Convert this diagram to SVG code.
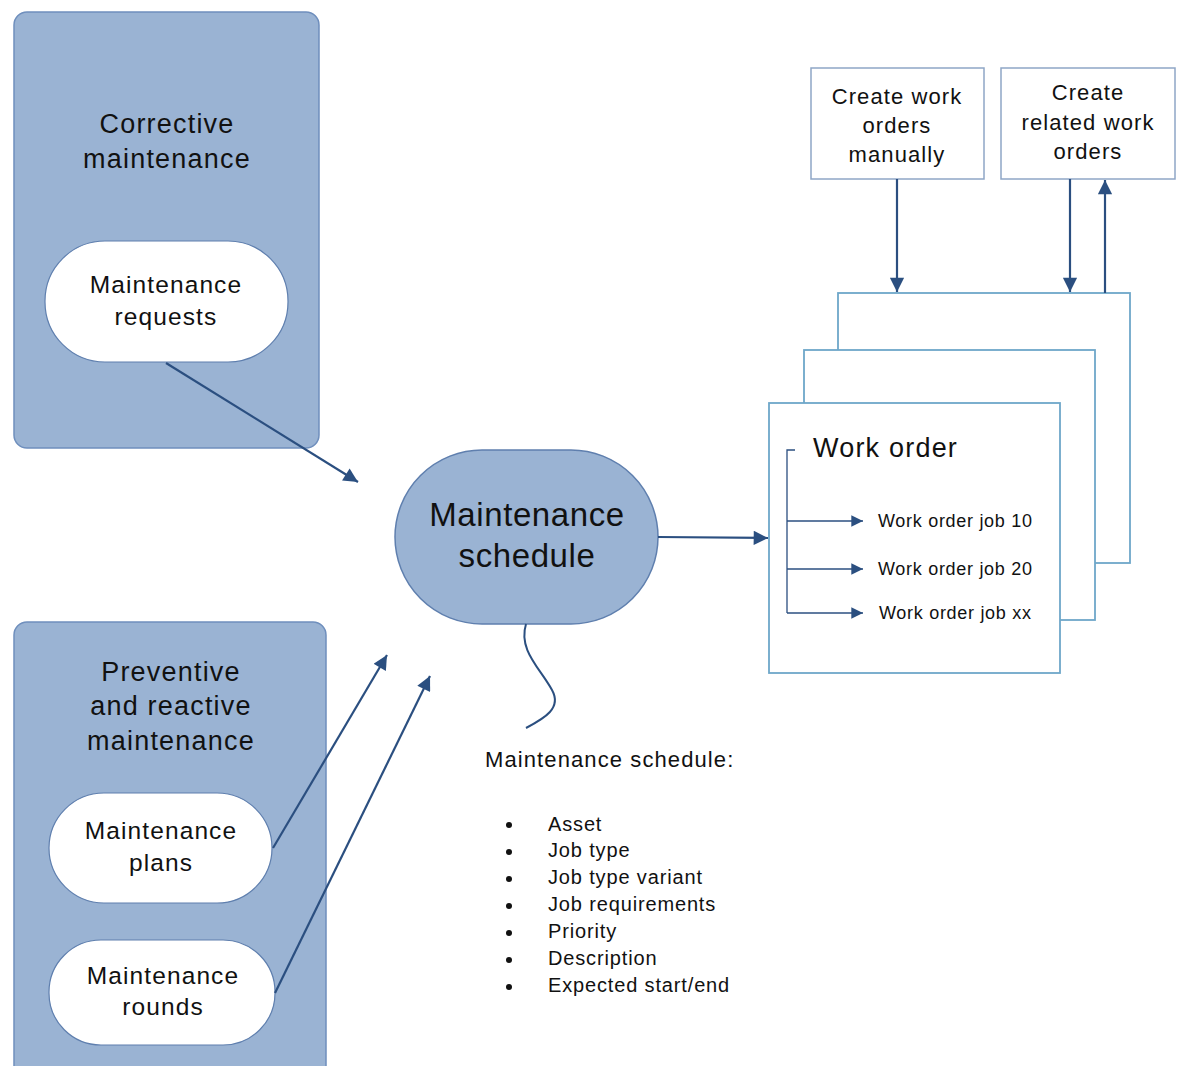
<svg xmlns="http://www.w3.org/2000/svg" width="1178" height="1066" viewBox="0 0 1178 1066">
<style>
text{font-family:"Liberation Sans",Arial,sans-serif;fill:#111;text-anchor:middle}
.grp{fill:#9ab3d3;stroke:#6f8fbd;stroke-width:1.5}
.pill{fill:#fff;stroke:#5f7fae;stroke-width:1.2}
.card{fill:#fff;stroke:#6ea7c9;stroke-width:1.8}
.box{fill:#fff;stroke:#8fa6c6;stroke-width:1.5}
.con{stroke:#2b4f80;stroke-width:2.2;fill:none}
.thin{stroke:#2b4f80;stroke-width:1.3;fill:none}
.t27{font-size:27px;letter-spacing:1.2px}
.t24{font-size:24.5px;letter-spacing:1.1px}
.t22{font-size:22px;letter-spacing:1.1px}
.t18{font-size:18px;letter-spacing:0.7px;text-anchor:start}
.t20{font-size:20px;letter-spacing:0.85px;text-anchor:start}
</style>
<defs>
<marker id="ah" viewBox="0 0 10 10" refX="10" refY="5" markerWidth="7" markerHeight="6.5" markerUnits="strokeWidth" orient="auto"><path d="M0,0L10,5L0,10z" fill="#2b4f80"/></marker>
<marker id="ahs" viewBox="0 0 10 10" refX="10" refY="5" markerWidth="10" markerHeight="9" markerUnits="strokeWidth" orient="auto"><path d="M0,0L10,5L0,10z" fill="#2b4f80"/></marker>
</defs>

<g id="corrective">
<rect class="grp" x="14" y="12" width="305" height="436" rx="13"/>
<text class="t27" x="167" y="133">Corrective</text>
<text class="t27" x="167" y="168">maintenance</text>
</g>
<g id="requests">
<rect class="pill" x="45" y="241" width="243" height="121" rx="60"/>
<text class="t24" x="166" y="293">Maintenance</text>
<text class="t24" x="166" y="325">requests</text>
</g>

<g id="preventive">
<rect class="grp" x="14" y="622" width="312" height="460" rx="13"/>
<text class="t27" x="171" y="681">Preventive</text>
<text class="t27" x="171" y="715">and reactive</text>
<text class="t27" x="171" y="750">maintenance</text>
</g>
<g id="plans">
<rect class="pill" x="49" y="793" width="223" height="110" rx="55"/>
<text class="t24" x="161" y="839">Maintenance</text>
<text class="t24" x="161" y="871">plans</text>
</g>
<g id="rounds">
<rect class="pill" x="49" y="940" width="226" height="105" rx="52"/>
<text class="t24" x="163" y="984">Maintenance</text>
<text class="t24" x="163" y="1015">rounds</text>
</g>

<g id="schedule">
<rect class="grp" x="395" y="450" width="263" height="174" rx="87" style="stroke:#5f7fae"/>
<text style="font-size:33px;letter-spacing:0.6px" x="527" y="526">Maintenance</text>
<text style="font-size:33px;letter-spacing:0.6px" x="527" y="567">schedule</text>
</g>

<g id="create-manual">
<rect class="box" x="811" y="68" width="173" height="111"/>
<text class="t22" x="897" y="104">Create work</text>
<text class="t22" x="897" y="133">orders</text>
<text class="t22" x="897" y="162">manually</text>
</g>
<g id="create-related">
<rect class="box" x="1001" y="68" width="174" height="111"/>
<text class="t22" x="1088" y="100">Create</text>
<text class="t22" x="1088" y="130">related work</text>
<text class="t22" x="1088" y="159">orders</text>
</g>

<g id="work-orders">
<rect class="card" x="838" y="293" width="292" height="270"/>
<rect class="card" x="804" y="350" width="291" height="270"/>
<rect class="card" x="769" y="403" width="291" height="270"/>
<text class="t27" x="813" y="457" style="text-anchor:start">Work order</text>
<path class="thin" d="M795,450H787V613"/>
<text class="t18" x="878" y="527">Work order job 10</text>
<text class="t18" x="878" y="575">Work order job 20</text>
<text class="t18" x="879" y="619">Work order job xx</text>
</g>

<g id="schedule-note">
<text class="t22" x="485" y="767" style="text-anchor:start">Maintenance schedule:</text>
<g fill="#111">
<circle cx="509" cy="825" r="3"/><circle cx="509" cy="852" r="3"/><circle cx="509" cy="879" r="3"/><circle cx="509" cy="906" r="3"/><circle cx="509" cy="933" r="3"/><circle cx="509" cy="960" r="3"/><circle cx="509" cy="987" r="3"/>
</g>
<text class="t20" x="548" y="831">Asset</text>
<text class="t20" x="548" y="857">Job type</text>
<text class="t20" x="548" y="884">Job type variant</text>
<text class="t20" x="548" y="911">Job requirements</text>
<text class="t20" x="548" y="938">Priority</text>
<text class="t20" x="548" y="965">Description</text>
<text class="t20" x="548" y="992">Expected start/end</text>
</g>

<g id="connectors">
<path class="con" d="M166,363L358,482" marker-end="url(#ah)"/>
<path class="con" d="M273,848L387,655" marker-end="url(#ah)"/>
<path class="con" d="M275,993L430,676" marker-end="url(#ah)"/>
<path class="con" d="M658,537L768,538" marker-end="url(#ah)"/>
<path class="con" d="M897,179V292" marker-end="url(#ah)"/>
<path class="con" d="M1070,179V292" marker-end="url(#ah)"/>
<path class="con" d="M1105,293V180" marker-end="url(#ah)"/>
<path class="con" style="stroke-width:2" d="M526,624C518,650 540,668 552,690C562,708 545,718 526,728"/>
<path class="thin" d="M787,521H863" marker-end="url(#ahs)"/>
<path class="thin" d="M787,569H863" marker-end="url(#ahs)"/>
<path class="thin" d="M787,613H863" marker-end="url(#ahs)"/>
</g>
</svg>
